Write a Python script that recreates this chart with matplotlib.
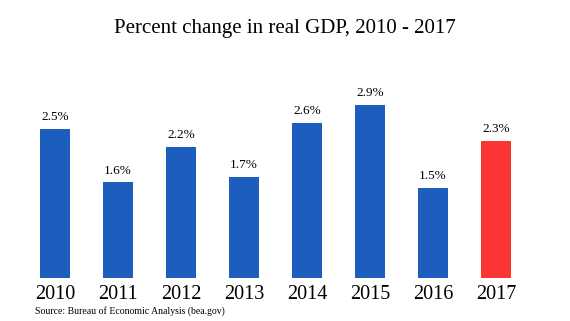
import numpy as np
import matplotlib.pyplot as plt

years = ["2010", "2011", "2012", "2013", "2014", "2015", "2016", "2017"]
growth = [2.5, 1.6, 2.2, 1.7, 2.6, 2.9, 1.5, 2.3]

blue = "#1d5dbe"
red = "#fd3434"
colors = [blue] * 7 + [red]

plt.rcParams["font.family"] = ["Liberation Serif", "DejaVu Serif"]

fig = plt.figure(figsize=(5.7, 3.21), dpi=100)
ax = fig.add_axes([0, 43 / 321, 1, 4 * 59.7 / 321])

x = np.arange(len(years))
ax.bar(x, growth, width=0.476, color=colors)
for xi, v in zip(x, growth):
    ax.text(xi, v + 0.1, f"{v}%", ha="center", va="bottom", fontsize=9.5)
    ax.text(xi, -0.12, years[xi], ha="center", va="top", fontsize=14.5)

ax.set_xlim(-55 / 63, 515 / 63)
ax.set_ylim(0, 4)
ax.axis("off")

fig.text(0.5, 0.91, "Percent change in real GDP, 2010 - 2017", ha="center", va="center", fontsize=15)
fig.text(35 / 570, 1 - 311 / 321, "Source: Bureau of Economic Analysis (bea.gov)", ha="left", va="center", fontsize=7)

fig.savefig("out.png", dpi=100)
